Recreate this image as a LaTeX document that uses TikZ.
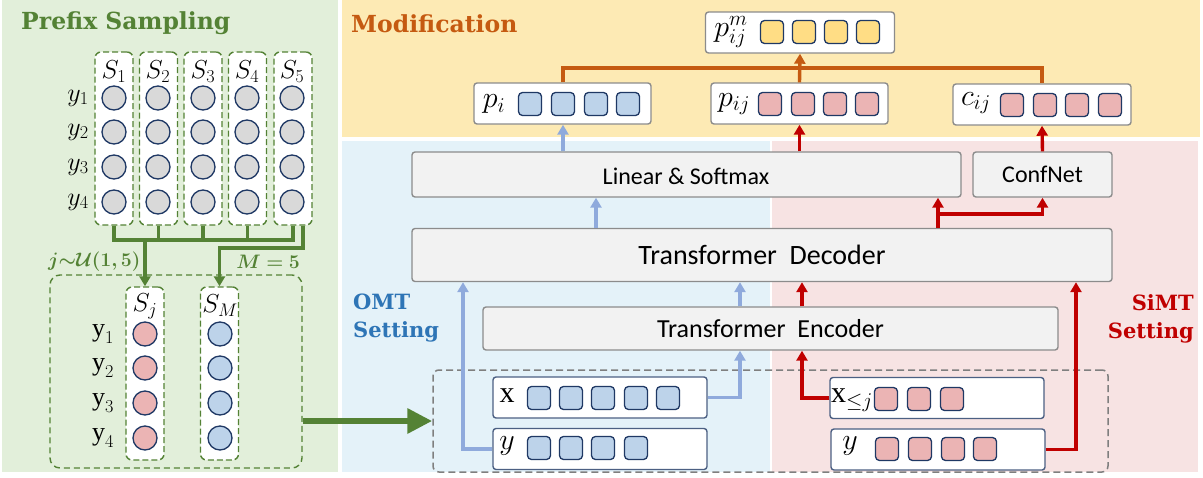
\RequirePackage{fix-cm}
\documentclass[tikz,border=0pt]{standalone}
\usepackage{fontspec}
\usepackage{bm}
\setmainfont{Carlito}
\newfontfamily\ttlfont{DejaVu Serif}
\newfontfamily\cmb{Liberation Serif}
\usetikzlibrary{arrows.meta}
\definecolor{dgreen}{HTML}{548235}
\definecolor{bggreen}{HTML}{E2EFDA}
\definecolor{bgyellow}{HTML}{FDEAB4}
\definecolor{bgblue}{HTML}{E4F2F9}
\definecolor{bgpink}{HTML}{F7E3E3}
\definecolor{torange}{HTML}{C55A11}
\definecolor{tblue}{HTML}{2E75B6}
\definecolor{tred}{HTML}{C00000}
\definecolor{lblue}{HTML}{8FAADC}
\definecolor{navy}{HTML}{1F3864}
\definecolor{boxgray}{HTML}{8C8C8C}
\definecolor{boxfill}{HTML}{F2F2F2}
\definecolor{cgray}{HTML}{D9D9D9}
\definecolor{sqblue}{HTML}{BDD3EA}
\definecolor{sqpink}{HTML}{EBB4B4}
\definecolor{sqyellow}{HTML}{FFDD85}
\definecolor{dashgray}{HTML}{7F7F7F}
\newcommand{\jlabeltext}{$\bm{j{\sim}\mathcal{U}(1,5)}$}
\newcommand{\mlabeltext}{$\bm{M=5}$}
\newcommand{\uy}[1]{$\mbox{\cmb y}_{#1}$}
\begin{document}
\begin{tikzpicture}[x=1pt,y=-1pt,
  ttl/.style={font=\ttlfont\bfseries\fontsize{23.5}{26}\selectfont, inner sep=0},
  subttl/.style={font=\ttlfont\bfseries\fontsize{21}{28}\selectfont, inner sep=0},
  col/.style={draw=dgreen, dashed, dash pattern=on 6pt off 3pt, fill=white, rounded corners=6pt, line width=1.4pt, minimum width=38pt, minimum height=173pt, inner sep=0},
  circ/.style={circle, draw=navy, line width=1.3pt, minimum size=24pt, inner sep=0},
  sq/.style={draw=navy, line width=1.3pt, rounded corners=4pt, minimum size=23pt, inner sep=0},
  wbox/.style={draw=boxgray, fill=white, rounded corners=3pt, line width=1.4pt, minimum width=177pt, minimum height=41pt, inner sep=0},
  ibox/.style={draw=navy!80, fill=white, rounded corners=3pt, line width=1.4pt, minimum width=214pt, minimum height=41pt, inner sep=0},
  gbox/.style={draw=boxgray, fill=boxfill, rounded corners=3pt, line width=1.4pt, inner sep=0},
  lbl/.style={inner sep=0, font=\fontsize{26}{28}\selectfont},
  mlbl/.style={inner sep=0, font=\fontsize{30}{32}\selectfont},
  glbl/.style={inner sep=0, text=dgreen, font=\fontsize{19.5}{21}\selectfont},
  tip/.style={-{Triangle[length=10pt,width=11pt]}},
  gline/.style={draw=dgreen, line width=3.2pt},
  barr/.style={draw=lblue, line width=3.4pt, tip},
  rarr/.style={draw=tred, line width=3.4pt, tip},
  rline/.style={draw=tred, line width=3.4pt},
  oline/.style={draw=torange, line width=3.4pt},
]
\useasboundingbox (0,0) rectangle (1203,477);
% panels
\fill[bggreen] (2,0) rectangle (338,472);
\fill[bgyellow] (342,0) rectangle (1200,137);
\fill[bgblue] (342,141) rectangle (770,472);
\fill[bgpink] (772,141) rectangle (1198,472);
% titles
\node[ttl, text=dgreen, anchor=west] (t1) at (21,23) {Prefix Sampling};
\node[ttl, text=torange, anchor=west] (t2) at (351,24) {Modification};
\node[subttl, text=tblue, anchor=north west, align=left] (t3) at (353,294) {OMT\\Setting};
\node[subttl, text=tred, anchor=north east, align=right] (t4) at (1194,294) {SiMT\\Setting};
% prefix columns
\foreach \cx/\bx [count=\i] in {114/114,158/158.5,203/203,247/247.5,292/293}{
  \node[col] (col\i) at (\bx,138.5) {};
  \node[lbl] (s\i) at (\cx,72) {$S_{\i}$};
  \foreach \cy [count=\k] in {98,132,167,202}{
    \node[circ, fill=cgray] (c\i-\k) at (\cx,\cy) {};
  }
}
\foreach \cy [count=\k] in {98,132,167,202}{
  \node[lbl] (yl\k) at (78,\cy) {$y_{\k}$};
}
% sampled pool
\node[draw=dgreen, dashed, dash pattern=on 6pt off 4pt, rounded corners=10pt, line width=1.4pt, minimum width=252pt, minimum height=193pt, inner sep=0] (pool) at (176,371.5) {};
\node[col, minimum height=173pt] (colj) at (145,373.5) {};
\node[col, minimum height=173pt] (colM) at (219.5,373.5) {};
\node[lbl] (sj) at (145,306) {$S_j$};
\node[lbl] (sM) at (220,306) {$S_M$};
\foreach \cy [count=\k] in {334,368,403,438}{
  \node[circ, fill=sqpink] (cj-\k) at (145,\cy) {};
  \node[circ, fill=sqblue] (cm-\k) at (220,\cy) {};
  \node[lbl] (yb\k) at (103,\cy) {\uy{\k}};
}
\node[glbl, anchor=west] (jlab) at (48,262) {\jlabeltext};
\node[glbl, anchor=east] (mlab) at (300,262) {\mlabeltext};
% bus connectors
\coordinate (busA) at (0,240);
\coordinate (busB) at (0,248);
\draw[gline] (col1.south) -- (col1.south |- busA) -- (col5.south |- busA) -- (col5.south);
\foreach \i in {2,3,4}{ \draw[gline] (col\i.south) -- (col\i.south |- busA); }
\draw[gline, tip] (colj.north |- busA) -- (colj.north);
\draw[gline, tip] ([xshift=10pt]col5.south) |- (colM.north |- busB) -- (colM.north);
% input area
\node[draw=dashgray, dashed, dash pattern=on 7pt off 4pt, rounded corners=6pt, line width=1.5pt, minimum width=675pt, minimum height=102pt, inner sep=0] (inbox) at (770.5,421) {};
\draw[draw=dgreen, line width=6.5pt, -{Triangle[length=25pt,width=24pt]}] (pool.east |- inbox.west) -- (inbox.west);
\node[ibox] (xb) at (600,397.5) {};
\node[ibox] (yb) at (600,449) {};
\node[ibox] (xjb) at (937,398) {};
\node[ibox] (yjb) at (938,449.5) {};
\node[mlbl] (xl) at (507,396) {\cmb x};
\node[mlbl] (ylb) at (507,446) {$y$};
\node[mlbl] (xjl) at (852,400) {{\cmb x}$_{\leq j}$};
\node[mlbl] (yjl) at (850,446) {$y$};
\foreach \sx [count=\k] in {539,571,603,636,668}{ \node[sq, fill=sqblue] (xs\k) at (\sx,398) {}; }
\foreach \sx [count=\k] in {539,571,603,636}{ \node[sq, fill=sqblue] (ys\k) at (\sx,448) {}; }
\foreach \sx [count=\k] in {886,919,952}{ \node[sq, fill=sqpink] (xjs\k) at (\sx,399) {}; }
\foreach \sx [count=\k] in {887,920,953,985}{ \node[sq, fill=sqpink] (yjs\k) at (\sx,449) {}; }
% model boxes
\node[gbox, minimum width=575pt, minimum height=43pt, font=\fontsize{26}{28}\selectfont] (enc) at (770.5,328.5) {Transformer\ \ Encoder};
\node[gbox, minimum width=700pt, minimum height=53pt, font=\fontsize{28}{30}\selectfont] (dec) at (762,255) {Transformer\ \ Decoder};
\node[gbox, minimum width=549pt, minimum height=45pt] (lin) at (686.5,174.5) {};
\node[inner sep=0, font=\fontsize{24}{26}\selectfont] (lintxt) at (686,176) {Linear \& Softmax};
\node[gbox, minimum width=139pt, minimum height=45pt, font=\fontsize{24}{26}\selectfont] (cn) at (1042.5,174.5) {ConfNet};
% output boxes
\node[wbox] (pi) at (562.5,103.5) {};
\node[wbox] (pij) at (799.5,103.5) {};
\node[wbox, minimum width=178pt] (cij) at (1042,104.5) {};
\node[wbox, minimum width=189pt] (pm) at (800,32.5) {};
\node[mlbl] (pil) at (494,104) {$p_i$};
\node[mlbl] (pijl) at (734,104) {$p_{ij}$};
\node[mlbl] (cijl) at (976,103) {$c_{ij}$};
\node[mlbl] (pml) at (731,32) {$p_{ij}^{m}$};
\foreach \sx [count=\k] in {530,563,596,628}{ \node[sq, fill=sqblue] (pis\k) at (\sx,104) {}; }
\foreach \sx [count=\k] in {770,803,835,867}{ \node[sq, fill=sqpink] (pijs\k) at (\sx,104) {}; }
\foreach \sx [count=\k] in {1012,1045,1077,1110}{ \node[sq, fill=sqpink] (cijs\k) at (\sx,105) {}; }
\foreach \sx [count=\k] in {772,804,836,868}{ \node[sq, fill=sqyellow] (pms\k) at (\sx,32) {}; }
% blue connectors
\coordinate (bl) at (463,0);
\coordinate (br) at (740,0);
\coordinate (bd) at (596,0);
\draw[barr] (yb.west) -| (bl |- dec.south);
\draw[barr] (xb.east) -| (br |- enc.south);
\draw[barr] (br |- enc.north) -- (br |- dec.south);
\draw[barr] (bd |- dec.north) -- (bd |- lin.south);
\draw[barr] (pis2 |- lin.north) -- (pis2 |- pi.south);
% red connectors
\coordinate (rl) at (802,0);
\coordinate (rr) at (1076,0);
\coordinate (rj) at (938,214);
\draw[rarr] (xjb.west) -| (rl |- enc.south);
\draw[rarr] (rl |- enc.north) -- (rl |- dec.south);
\draw[rarr] (yjb.east) -| (rr |- dec.south);
\draw[rline] (rj |- dec.north) -- (rj);
\draw[rarr] (rj) -- (rj |- lin.south);
\draw[rarr] (rj) -| (cn.south);
\draw[rarr] (pij.south |- lin.north) -- (pij.south);
\draw[rarr] (cn.north) -- (cij.south);
% orange connectors
\coordinate (oy) at (0,68);
\draw[oline] (pis2 |- pi.north) -- (pis2 |- oy) -- (cij.north |- oy) -- (cij.north);
\draw[oline, tip] (pij.north) -- (pm.south);
\end{tikzpicture}
\end{document}
